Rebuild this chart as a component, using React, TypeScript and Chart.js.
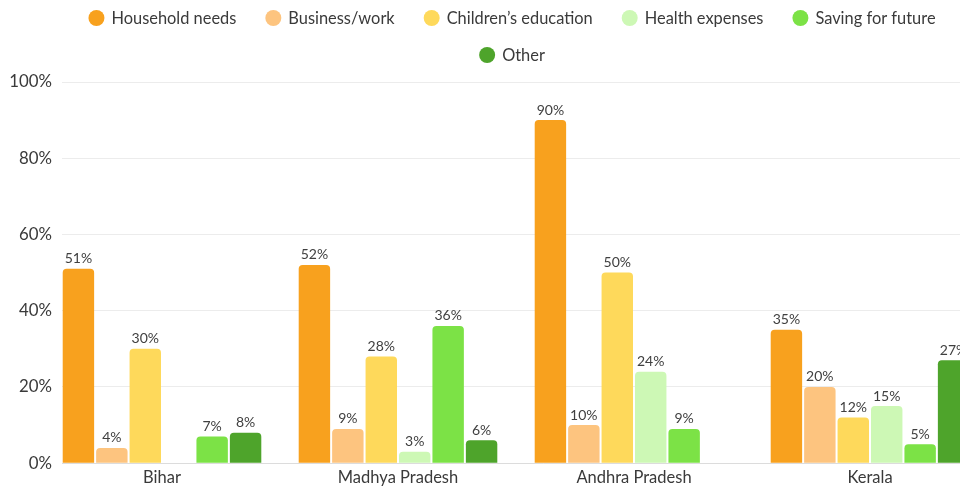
import React, { useEffect, useRef } from 'react';
import { Chart, registerables } from 'chart.js';

Chart.register(...registerables);

const categories = ['Bihar', 'Madhya Pradesh', 'Andhra Pradesh', 'Kerala'];
const seriesNames = ['Household needs', 'Business/work', 'Children\u2019s education', 'Health expenses', 'Saving for future', 'Other'];
const householdNeeds = [51, 52, 90, 35];
const businessWork = [4, 9, 10, 20];
const childrensEducation = [30, 28, 50, 12];
const healthExpenses = [null, 3, 24, 15];
const savingForFuture = [7, 36, 9, 5];
const otherUse = [8, 6, null, 27];
const seriesColors = ['#F8A11E', '#FDC47F', '#FED95B', '#CDF8B5', '#7CE246', '#4EA42B'];
const yTickStep = 20;
const yMax = 100;

const FONT = 'Lato, "Noto Sans", sans-serif';
const TEXT = '#3a3a3a';

const seriesValues = [householdNeeds, businessWork, childrensEducation, healthExpenses, savingForFuture, otherUse];

const legendPlugin = {
  id: 'customLegend',
  afterDraw(chart: any) {
    const { ctx } = chart;
    const r = 8;
    const gapText = 7;
    const gapItem = 29;
    const maxRow = 900;
    ctx.save();
    ctx.font = `16.4px ${FONT}`;
    const items = chart.data.datasets.map((ds: any) => {
      const tw = ctx.measureText(ds.label).width;
      return { text: ds.label, color: ds.backgroundColor, tw, iw: 2 * r + gapText + tw };
    });
    const rows: any[] = [];
    let cur: any[] = [];
    let w = 0;
    items.forEach((it: any) => {
      const add = cur.length ? gapItem + it.iw : it.iw;
      if (cur.length && w + add > maxRow) {
        rows.push({ items: cur, w });
        cur = [];
        w = 0;
      }
      w += cur.length ? gapItem + it.iw : it.iw;
      cur.push(it);
    });
    if (cur.length) rows.push({ items: cur, w });
    const cx = chart.width / 2;
    rows.forEach((row: any, ri: number) => {
      const y = 18 + ri * 37;
      let x = cx - row.w / 2;
      row.items.forEach((it: any) => {
        ctx.beginPath();
        ctx.fillStyle = it.color;
        ctx.arc(x + r, y, r, 0, Math.PI * 2);
        ctx.fill();
        ctx.fillStyle = TEXT;
        ctx.textAlign = 'left';
        ctx.textBaseline = 'middle';
        ctx.fillText(it.text, x + 2 * r + gapText, y + 1);
        x += it.iw + gapItem;
      });
    });
    ctx.restore();
  },
};

const valueLabelPlugin = {
  id: 'valueLabels',
  afterDatasetsDraw(chart: any) {
    const { ctx } = chart;
    ctx.save();
    ctx.font = `14px ${FONT}`;
    ctx.fillStyle = '#404040';
    ctx.textAlign = 'center';
    ctx.textBaseline = 'bottom';
    chart.data.datasets.forEach((ds: any, di: number) => {
      const meta = chart.getDatasetMeta(di);
      meta.data.forEach((el: any, i: number) => {
        const v = ds.data[i] && ds.data[i].y;
        if (v === null || v === undefined) return;
        ctx.fillText(`${v}%`, el.x, el.y - 3);
      });
    });
    ctx.restore();
  },
};

export default function App() {
  const ref = useRef<HTMLCanvasElement | null>(null);

  useEffect(() => {
    if (!ref.current) return;
    const canvasWidth = 1024;
    const plotLeft = 62;
    const firstCenter = 162;
    const step = 236;
    const chart = new Chart(ref.current, {
      type: 'bar',
      data: {
        datasets: seriesNames.map((name, si) => ({
          label: name,
          data: seriesValues[si].map((v, i) => ({ x: i, y: v })),
          backgroundColor: seriesColors[si],
          borderRadius: 4,
          borderSkipped: 'start',
          categoryPercentage: 0.85,
          barPercentage: 0.94,
        })),
      },
      options: {
        responsive: false,
        animation: false,
        events: [],
        layout: { padding: { top: 82, left: 0, right: 0, bottom: 0 } },
        plugins: {
          legend: { display: false },
          tooltip: { enabled: false },
        },
        scales: {
          x: {
            type: 'linear',
            offset: false,
            min: -(firstCenter - plotLeft) / step,
            max: (canvasWidth - firstCenter) / step,
            grid: { display: false, drawTicks: false },
            border: { display: true, color: '#dcdcdc' },
            ticks: {
              stepSize: 1,
              includeBounds: false,
              autoSkip: false,
              maxRotation: 0,
              padding: 5,
              color: TEXT,
              font: { family: FONT, size: 16.5 },
              callback: (v: any) => categories[v] ?? '',
            },
          },
          y: {
            min: 0,
            max: yMax,
            grid: { color: '#ececec', drawTicks: false },
            border: { display: false },
            ticks: {
              stepSize: yTickStep,
              padding: 10,
              color: TEXT,
              font: { family: FONT, size: 16.8 },
              callback: (v: any) => `${v}%`,
            },
            afterFit: (scale: any) => {
              scale.width = plotLeft;
            },
          },
        },
      },
      plugins: [valueLabelPlugin, legendPlugin],
    } as any);
    return () => chart.destroy();
  }, []);

  return (
    <div style={{ position: 'fixed', left: 0, top: 0, width: 960, height: 487, overflow: 'hidden', background: '#fff' }}>
      <canvas ref={ref} width={1024} height={493} style={{ display: 'block', width: 1024, height: 493 }} />
    </div>
  );
}
